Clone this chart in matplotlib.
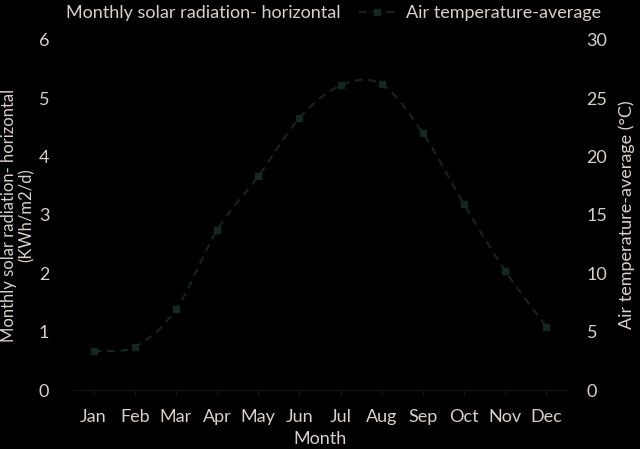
import numpy as np
import matplotlib
matplotlib.use("Agg")
import matplotlib.pyplot as plt
from matplotlib.lines import Line2D
from matplotlib.patches import Patch

months = ["Jan", "Feb", "Mar", "Apr", "May", "Jun", "Jul", "Aug", "Sep", "Oct", "Nov", "Dec"]
solar_radiation = [1.8, 2.6, 3.5, 4.4, 5.3, 5.8, 5.7, 5.2, 4.4, 3.2, 2.1, 1.6]
air_temperature = [3.3, 3.7, 6.9, 13.7, 18.3, 23.3, 26.1, 26.2, 22.0, 15.9, 10.2, 5.4]

BG = "black"
TXT = "#d9d0cc"
LINE = "#13281f"
AX = "#141414"
FS = 13

plt.rcParams['font.family'] = ['Lato', 'DejaVu Sans']
fig = plt.figure(figsize=(6.4, 4.49), dpi=100, facecolor=BG)
ax = fig.add_axes([0.114, 0.1314, 0.772, 0.7796], facecolor=BG)
ax2 = ax.twinx()

x = np.arange(len(months))
ax.bar(x, solar_radiation, width=0.6, color=BG, edgecolor=BG, zorder=1)
ax.set_xlim(-0.5, len(months) - 0.5)
ax.set_ylim(0, 6)
ax.set_yticks(range(0, 7))
ax2.set_ylim(0, 30)
ax2.set_yticks(range(0, 31, 5))


def catmull_rom(xs, ys, n=20):
    xs = np.asarray(xs, float)
    ys = np.asarray(ys, float)
    px = np.concatenate([[2 * xs[0] - xs[1]], xs, [2 * xs[-1] - xs[-2]]])
    py = np.concatenate([[2 * ys[0] - ys[1]], ys, [2 * ys[-1] - ys[-2]]])
    ox, oy = [], []
    for i in range(1, len(px) - 2):
        t = np.linspace(0, 1, n, endpoint=False)
        for p, o in ((px, ox), (py, oy)):
            p0, p1, p2, p3 = p[i - 1], p[i], p[i + 1], p[i + 2]
            o.extend(0.5 * ((2 * p1) + (-p0 + p2) * t + (2 * p0 - 5 * p1 + 4 * p2 - p3) * t ** 2
                            + (-p0 + 3 * p1 - 3 * p2 + p3) * t ** 3))
    ox.append(xs[-1]); oy.append(ys[-1])
    return np.array(ox), np.array(oy)


sx, sy = catmull_rom(x, air_temperature)
ax2.plot(sx, sy, color=LINE, lw=1.4, ls=(0, (4, 3)), zorder=3)
ax2.plot(x, air_temperature, ls="none", marker="s", ms=4, color=LINE, zorder=4)

for a in (ax, ax2):
    for s in a.spines.values():
        s.set_visible(False)
ax.spines['bottom'].set_visible(True)
ax.spines['bottom'].set_color(AX)
ax.tick_params(axis='x', colors=AX, length=4, labelcolor=TXT, labelsize=FS, pad=10)
ax.tick_params(axis='y', length=0, labelcolor=TXT, labelsize=FS, pad=17)
ax2.tick_params(axis='y', length=0, labelcolor=TXT, labelsize=FS, pad=14)
ax.set_xticks(x)
ax.set_xticklabels(months)

ax.set_xlabel("Month", color=TXT, fontsize=FS, labelpad=4)
ax.set_ylabel("Monthly solar radiation- horizontal\n(KWh/m2/d)", color=TXT, fontsize=12,
              labelpad=3, linespacing=1.1)
ax2.set_ylabel("Air temperature-average (°C)", color=TXT, fontsize=FS, labelpad=8)

handles = [Patch(facecolor=BG, edgecolor=BG),
           Line2D([], [], color=LINE, lw=1.4, ls=(0, (4, 3)), marker="s", ms=4)]
labels = ["Monthly solar radiation- horizontal", "Air temperature-average"]
fig.legend(handles, labels, loc="upper center", bbox_to_anchor=(0.485, 1.025), ncol=2,
           frameon=False, fontsize=FS, labelcolor=TXT, handlelength=2.0, columnspacing=1.0,
           handletextpad=0.6)

fig.savefig("out.png", dpi=100, facecolor=BG)
